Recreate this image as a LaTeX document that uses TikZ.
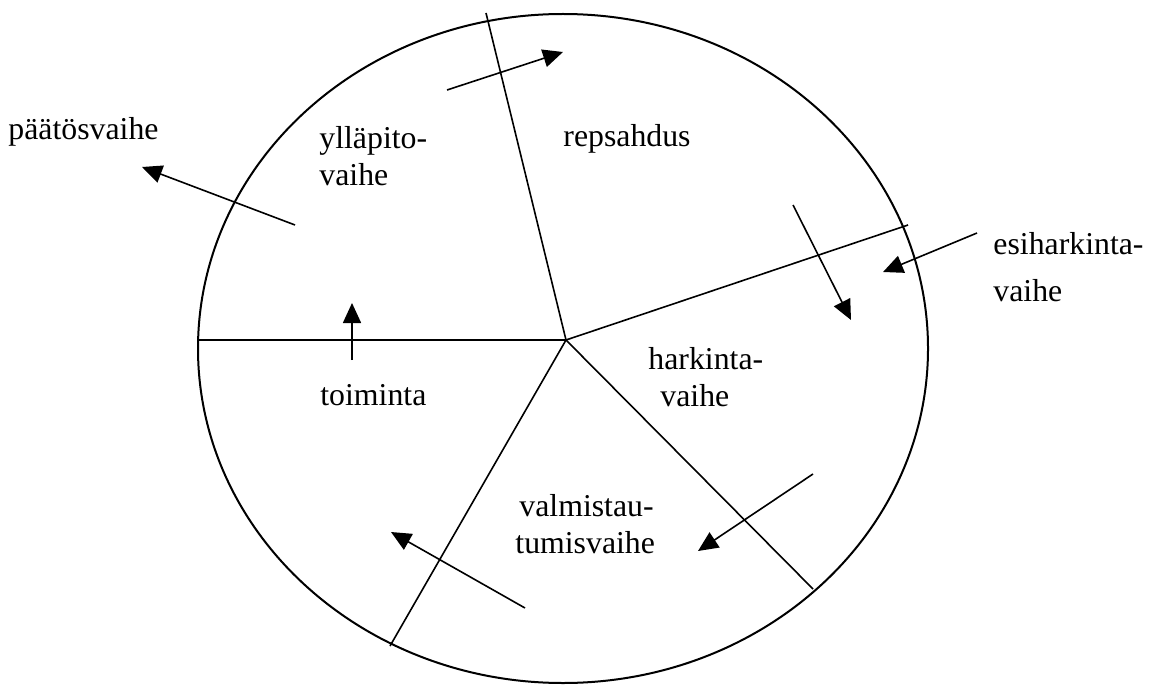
\documentclass[tikz,border=0pt]{standalone}
\usepackage{fontspec}
\setmainfont{Liberation Serif}
\usetikzlibrary{arrows.meta}

\begin{document}
\begin{tikzpicture}[x=0.5pt,y=-0.5pt,>={Triangle[length=10pt,width=9pt]},
    phase/.style={inner sep=0pt,font=\fontsize{15.9}{18.5}\selectfont,align=left},
    spoke/.style={line width=0.8pt},
    flow/.style={->,line width=0.8pt}]
    \useasboundingbox (0,0) rectangle (1154,684);
    % wheel
    \draw [line width=1pt] (563,348.5) ellipse [x radius=182.5pt,y radius=167.25pt];
    \coordinate (c) at (566,340);
    \coordinate (s1) at (486,13);
    \coordinate (s2) at (908,225);
    \coordinate (s3) at (813,589);
    \coordinate (s4) at (390,646);
    \coordinate (s5) at (198,340);
    \draw [spoke] (c) -- (s1);
    \draw [spoke] (c) -- (s2);
    \draw [spoke] (c) -- (s3);
    \draw [spoke] (c) -- (s4);
    \draw [spoke] (c) -- (s5);
    % phases
    \node [phase,anchor=north west] (yllapito) at (319,126) {ylläpito-\\vaihe};
    \node [phase,anchor=base west] (repsahdus) at (563,147) {repsahdus};
    \node [phase,anchor=base west] (paatos) at (8,140) {päätösvaihe};
    \node [phase,anchor=north west] (esiharkinta) at (993,232) {esiharkinta-\\[5pt]vaihe};
    \node [phase,anchor=north west] (harkinta) at (648,347) {harkinta-\\\hspace*{6pt}vaihe};
    \node [phase,anchor=base west] (toiminta) at (320,405) {toiminta};
    \node [phase,anchor=north west] (valmistau) at (515,494) {\hspace*{2pt}valmistau-\\tumisvaihe};
    % arrows
    \coordinate (a1) at (447,90);   \coordinate (b1) at (563,52);
    \coordinate (a2) at (793,205);  \coordinate (b2) at (851,320);
    \coordinate (a3) at (977,233);  \coordinate (b3) at (883,272);
    \coordinate (a4) at (813,474);  \coordinate (b4) at (698,551);
    \coordinate (a5) at (525,608);  \coordinate (b5) at (391,532);
    \coordinate (a6) at (352,360);  \coordinate (b6) at (352,303);
    \coordinate (a7) at (295,225);  \coordinate (b7) at (142,167);
    \draw [flow] (a1) -- (b1);
    \draw [flow] (a2) -- (b2);
    \draw [flow] (a3) -- (b3);
    \draw [flow] (a4) -- (b4);
    \draw [flow] (a5) -- (b5);
    \draw [flow] (a6) -- (b6);
    \draw [flow] (a7) -- (b7);
\end{tikzpicture}
\end{document}
